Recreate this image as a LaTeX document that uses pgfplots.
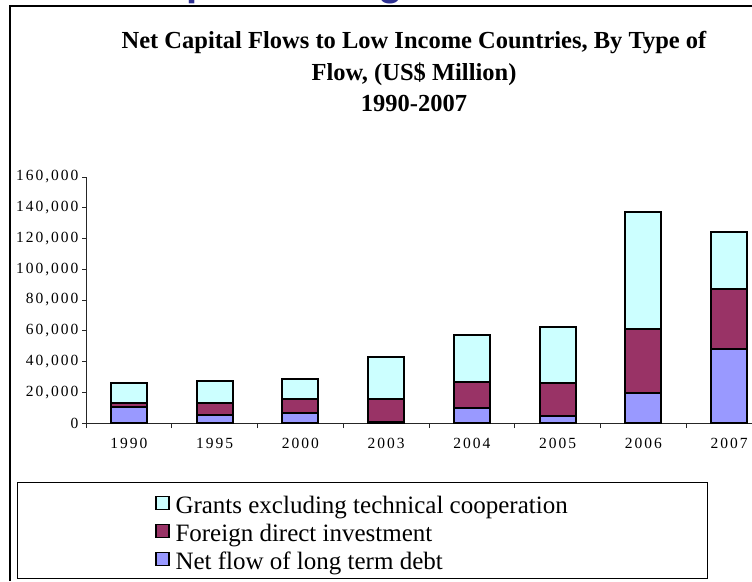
\documentclass[border=0pt]{standalone}
\usepackage{fontspec}
\setmainfont{Liberation Serif}
\newfontfamily\tickfont[LetterSpace=13]{Liberation Serif}
\newfontfamily\headfont{Liberation Sans}
\usepackage{pgfplots}
\pgfplotsset{compat=1.18}
\definecolor{grant}{HTML}{CCFFFF}
\definecolor{fdi}{HTML}{993366}
\definecolor{debt}{HTML}{9999FF}
\definecolor{navy}{HTML}{2E3192}
\begin{document}
\begin{tikzpicture}[x=1pt,y=1pt]
\useasboundingbox (0,0) rectangle (752,581);
\clip (0,0) rectangle (752,581);
\fill[white] (0,0) rectangle (752,581);
\begin{scope}
\clip (0,577) rectangle (752,581);
\node[anchor=base west, inner sep=0pt, text=navy, font=\headfont\bfseries\fontsize{40}{44}\selectfont] at (186,585.5) {p};
\node[anchor=base west, inner sep=0pt, text=navy, font=\headfont\bfseries\fontsize{40}{44}\selectfont] at (378,585.5) {g};
\end{scope}
\draw[line width=1.2pt] (10,0) -- (10,575) -- (752,575);
\node[anchor=base, inner sep=0pt, font=\fontsize{24.5}{29}\selectfont\bfseries] at (414,532) {Net Capital Flows to Low Income Countries, By Type of};
\node[anchor=base, inner sep=0pt, font=\fontsize{24.5}{29}\selectfont\bfseries] at (414,500) {Flow, (US\$ Million)};
\node[anchor=base, inner sep=0pt, font=\fontsize{24.5}{29}\selectfont\bfseries] at (414,469) {1990-2007};
\begin{axis}[
  at={(86pt,158pt)}, anchor=south west,
  scale only axis, width=686pt, height=246pt,
  xmin=-0.5, xmax=7.5, ymin=0, ymax=160000,
  ybar stacked, bar width=36pt,
  axis lines=left, axis line style={-, line width=0.8pt, black!85},
  xtick={0,...,7}, xticklabels={1990,1995,2000,2003,2004,2005,2006,2007},
  major x tick style={draw=none},
  minor xtick={-0.5,0.5,...,7.5}, minor tick length=5pt,
  minor x tick style={line width=0.8pt, black!85},
  ytick={0,20000,...,160000},
  yticklabels={0,{20,000},{40,000},{60,000},{80,000},{100,000},{120,000},{140,000},{160,000}},
  major tick length=4pt, tick align=outside,
  y tick style={line width=0.8pt, black!85},
  scaled y ticks=false,
  ticklabel style={font=\tickfont\fontsize{15.5}{17}\selectfont},
  xticklabel style={yshift=-8pt},
  reverse legend,
  legend cell align=left,
  legend style={at={(0.1006,-0.278)}, anchor=north west, draw=none, fill=none, inner sep=0pt,
    row sep=0.6pt,
    /tikz/every odd column/.append style={column sep=6pt},
    nodes={inner sep=0pt, text height=18pt, text depth=6pt, font=\fontsize{25}{28}\selectfont}},
  legend image code/.code={%
    \path[draw=none, fill=none] (-0.65pt,1.35pt) rectangle (13.65pt,15.65pt);
    \begin{pgfinterruptboundingbox}
    \draw[#1, draw=black, line width=1.3pt] (0pt,-2pt) rectangle (13pt,11pt);
    \end{pgfinterruptboundingbox}},
]
\addplot[fill=debt, draw=black, line width=1.8pt] coordinates {(0,10200) (1,5000) (2,6300) (3,1000) (4,9900) (5,4700) (6,19300) (7,47900)};
\addplot[fill=fdi, draw=black, line width=1.8pt] coordinates {(0,2600) (1,7800) (2,9100) (3,14400) (4,16900) (5,21100) (6,41600) (7,39200)};
\addplot[fill=grant, draw=black, line width=1.8pt] coordinates {(0,13000) (1,14700) (2,13000) (3,27700) (4,30400) (5,36400) (6,76400) (7,37200)};
\legend{Net flow of long term debt, Foreign direct investment, Grants excluding technical cooperation}
\end{axis}
\draw[line width=1pt] (17,3) rectangle (707,98);
\end{tikzpicture}
\end{document}
